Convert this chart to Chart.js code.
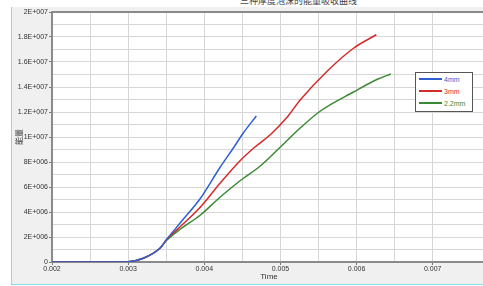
<!DOCTYPE html>
<html>
<head>
<meta charset="utf-8">
<script src="https://cdn.jsdelivr.net/npm/chart.js@4/dist/chart.umd.min.js"></script>
<style>
  html, body { margin: 0; padding: 0; background: #fff; width: 483px; height: 286px; overflow: hidden; }
  #panel { position: absolute; left: 11px; top: 7px; width: 480px; height: 277px; background: #f0f0f0;
           border-left: 1px solid #7fe0e8; border-bottom: 1px solid #7fe0e8; }
  #title { position: absolute; left: 240px; top: -5px; font: 9px "Noto Sans CJK SC", sans-serif; color: #444; white-space: nowrap; line-height: 11px; }
  #chart { position: absolute; left: 0; top: 0; }
  #legend { position: absolute; left: 415px; top: 72px; width: 56px; height: 38px; background: #fff;
            border: 1px solid #555; font: 7px "Liberation Sans", Arial, sans-serif; }
  #legend div { height: 12px; display: flex; align-items: center; padding-left: 3px; }
  #legend span.l { display: inline-block; width: 23px; height: 2px; margin-right: 2px; }
</style>
</head>
<body>
<div id="panel"></div>
<div id="title">三种厚度泡沫的能量吸收曲线</div>
<canvas id="chart" width="486" height="286"></canvas>
<div id="legend"></div>
<script>
// values: time (s) and energy
const labels = ['4mm', '3mm', '2.2mm'];
const colors = ['#2f5fd0', '#d42a2a', '#3a8a34'];

const time4 = [0.002, 0.0029, 0.003, 0.0032, 0.00342, 0.0035, 0.00368, 0.00395, 0.00421, 0.00438, 0.00451, 0.004684];
const energy4 = [0, 0, 0.02e6, 0.3e6, 1.12e6, 1.76e6, 3.1e6, 5.1e6, 7.6e6, 9.1e6, 10.3e6, 11.68e6];

const time3 = [0.002, 0.0029, 0.003, 0.0032, 0.00342, 0.0035, 0.00368, 0.00395, 0.00421, 0.00447, 0.00465, 0.00487, 0.00509, 0.00526, 0.00562, 0.00596, 0.00626];
const energy3 = [0, 0, 0.02e6, 0.3e6, 1.12e6, 1.76e6, 2.8e6, 4.4e6, 6.32e6, 8.1e6, 9.12e6, 10.2e6, 11.6e6, 12.96e6, 15.3e6, 17.1e6, 18.18e6];

const time22 = [0.002, 0.0029, 0.003, 0.0032, 0.00342, 0.0035, 0.00368, 0.00395, 0.00421, 0.00447, 0.00474, 0.005, 0.00526, 0.00553, 0.00596, 0.00628, 0.00645];
const energy22 = [0, 0, 0.02e6, 0.3e6, 1.1e6, 1.7e6, 2.6e6, 3.76e6, 5.2e6, 6.5e6, 7.7e6, 9.2e6, 10.72e6, 12.1e6, 13.6e6, 14.64e6, 15.04e6];

const xTicks = [0.002, 0.003, 0.004, 0.005, 0.006, 0.007];
const yTicks = [0, 2e6, 4e6, 6e6, 8e6, 1e7, 1.2e7, 1.4e7, 1.6e7, 1.8e7, 2e7];

const series = [
    [time4, energy4],
    [time3, energy3],
    [time22, energy22],
];

function sciLabel(v) {
    if (v === 0) {
        return '0';
    }
    const e = Math.floor(Math.log10(v) + 1e-9);
    const m = Math.round(v / Math.pow(10, e) * 10) / 10;
    return m + 'E+' + String(e).padStart(3, '0');
}

function isXLabel(v) {
    return xTicks.some((t) => Math.abs(t - v) < 1e-9);
}

function isYLabel(v) {
    return yTicks.some((t) => Math.abs(t - v) < 1);
}

const plotFrame = {
    id: 'plotFrame',
    afterDraw(chart) {
        const { ctx, chartArea } = chart;
        ctx.save();
        ctx.strokeStyle = '#8a8a8a';
        ctx.lineWidth = 2;
        ctx.beginPath();
        ctx.moveTo(chartArea.left, chartArea.top);
        ctx.lineTo(chartArea.right, chartArea.top);
        ctx.stroke();
        ctx.restore();
    },
    beforeDraw(chart) {
        const { ctx, chartArea } = chart;
        ctx.save();
        ctx.fillStyle = '#fff';
        ctx.fillRect(chartArea.left, chartArea.top, chartArea.right - chartArea.left, chartArea.bottom - chartArea.top);
        ctx.restore();
    },
};

const tickFont = { family: '"Liberation Sans", Arial, sans-serif', size: 7 };

new Chart(document.getElementById('chart'), {
    type: 'line',
    data: {
        datasets: series.map(([t, e], i) => ({
            label: labels[i],
            data: t.map((x, k) => ({ x, y: e[k] })),
            borderColor: colors[i],
            borderWidth: 1.5,
            pointRadius: 0,
            cubicInterpolationMode: 'monotone',
            fill: false,
        })),
    },
    options: {
        responsive: false,
        animation: false,
        devicePixelRatio: 1,
        layout: { padding: { top: 12, left: 0, right: 0, bottom: 0 } },
        plugins: {
            legend: { display: false },
            tooltip: { enabled: false },
        },
        scales: {
            x: {
                type: 'linear',
                min: 0.002,
                max: 0.0077,
                afterFit: (scale) => { scale.height = 24; },
                border: { color: '#8a8a8a', width: 2 },
                grid: {
                    color: '#d6d6d6',
                    tickLength: 3,
                    tickColor: (c) => (isXLabel(c.tick.value) ? '#777' : 'rgba(0,0,0,0)'),
                },
                ticks: {
                    stepSize: 0.0005,
                    autoSkip: false,
                    maxRotation: 0,
                    padding: 0,
                    color: '#333',
                    font: tickFont,
                    callback: (v) => (isXLabel(v) ? v.toFixed(3) : ''),
                },
                title: {
                    display: true,
                    text: 'Time',
                    color: '#333',
                    font: { family: '"Liberation Sans", Arial, sans-serif', size: 8 },
                    padding: { top: 0, bottom: 4 },
                },
            },
            y: {
                min: 0,
                max: 2e7,
                afterFit: (scale) => { scale.width = 52; },
                border: { color: '#8a8a8a', width: 2 },
                grid: {
                    color: '#d6d6d6',
                    tickLength: 3,
                    tickColor: (c) => (isYLabel(c.tick.value) ? '#777' : 'rgba(0,0,0,0)'),
                },
                ticks: {
                    stepSize: 1e6,
                    autoSkip: false,
                    padding: 1,
                    color: '#333',
                    font: tickFont,
                    callback: (v) => (isYLabel(v) ? sciLabel(v) : ''),
                },
                title: {
                    display: true,
                    text: '能量',
                    color: '#333',
                    font: { family: '"Noto Sans CJK SC", sans-serif', size: 8 },
                    padding: { top: 14, bottom: 0 },
                },
            },
        },
    },
    plugins: [plotFrame],
});

const legend = document.getElementById('legend');
labels.forEach((name, i) => {
    const row = document.createElement('div');
    row.innerHTML = `<span class="l" style="background:${colors[i]}"></span><span style="color:${colors[i]}">${name}</span>`;
    legend.appendChild(row);
});
</script>
</body>
</html>
